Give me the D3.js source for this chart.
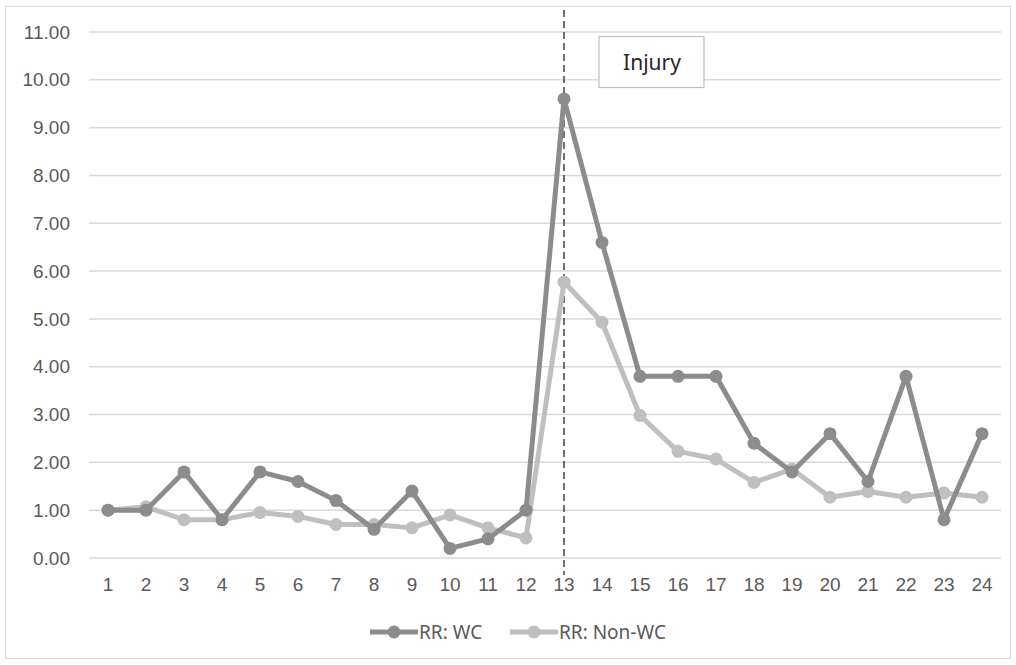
<!DOCTYPE html>
<html>
<head>
<meta charset="utf-8">
<script src="https://cdn.jsdelivr.net/npm/d3@7"></script>
<style>
  body { margin: 0; background: #fff; }
  svg { font-family: 'Noto Sans', 'Open Sans', sans-serif; }
</style>
</head>
<body>
<svg id="chart" width="1016" height="665"></svg>
<script>
// weeks and relative risk values
const weeks = d3.range(1, 25);
const rrWC = [1.0, 1.0, 1.8, 0.8, 1.8, 1.6, 1.2, 0.6, 1.4, 0.2, 0.4, 1.0,
  9.6, 6.6, 3.8, 3.8, 3.8, 2.4, 1.8, 2.6, 1.6, 3.8, 0.8, 2.6];
const rrNonWC = [1.0, 1.07, 0.8, 0.8, 0.95, 0.87, 0.7, 0.7, 0.63, 0.9, 0.63, 0.42,
  5.77, 4.93, 2.98, 2.23, 2.07, 1.58, 1.86, 1.27, 1.39, 1.27, 1.36, 1.27];
const yTicks = d3.range(0, 12);
const injuryWeek = 13;

const series = [
  { name: 'RR: Non-WC', values: rrNonWC, color: '#bfbfbf' },
  { name: 'RR: WC', values: rrWC, color: '#8c8c8c' },
];

const svg = d3.select('#chart');

// outer frame
svg.append('rect')
  .attr('x', 5.5).attr('y', 6.5)
  .attr('width', 1005).attr('height', 652)
  .attr('fill', 'none').attr('stroke', '#d9d9d9');

const x = d3.scaleBand().domain(weeks).range([89, 1001]);
const y = d3.scaleLinear().domain([0, 11]).range([558, 32]);

// gridlines
svg.append('g')
  .selectAll('line')
  .data(yTicks)
  .join('line')
  .attr('x1', 89).attr('x2', 1001)
  .attr('y1', (d) => y(d)).attr('y2', (d) => y(d))
  .attr('stroke', '#d9d9d9').attr('stroke-width', 1.5);

const yAxis = svg.append('g')
  .attr('transform', 'translate(89,0)')
  .call(d3.axisLeft(y).tickValues(yTicks).tickFormat(d3.format('.2f')).tickSize(0).tickPadding(19));
yAxis.select('.domain').remove();
yAxis.selectAll('text').attr('font-size', 19).attr('fill', '#595959').attr('font-family', null);

const xAxis = svg.append('g')
  .attr('transform', 'translate(0,' + y(0) + ')')
  .call(d3.axisBottom(x).tickSize(0).tickPadding(20));
xAxis.select('.domain').remove();
xAxis.selectAll('text').attr('font-size', 19).attr('fill', '#595959').attr('font-family', null);

// injury marker
const injX = x(injuryWeek) + x.bandwidth() / 2;
svg.append('line')
  .attr('x1', injX).attr('x2', injX)
  .attr('y1', 10).attr('y2', 575)
  .attr('stroke', '#262626').attr('stroke-width', 1.3)
  .attr('stroke-dasharray', '7,4');

svg.append('rect')
  .attr('x', 599).attr('y', 36.5)
  .attr('width', 105).attr('height', 51)
  .attr('fill', '#fff').attr('stroke', '#bfbfbf').attr('stroke-width', 1.2);
svg.append('text')
  .attr('x', 652).attr('y', 69.5)
  .attr('text-anchor', 'middle')
  .attr('font-size', 21).attr('fill', '#262626')
  .text('Injury');

// lines and markers
const line = d3.line()
  .x((d, i) => x(weeks[i]) + x.bandwidth() / 2)
  .y((d) => y(d));

series.forEach((s) => {
  const g = svg.append('g');
  g.append('path')
    .attr('d', line(s.values))
    .attr('fill', 'none')
    .attr('stroke', s.color)
    .attr('stroke-width', 5)
    .attr('stroke-linejoin', 'round');
  g.selectAll('circle')
    .data(s.values)
    .join('circle')
    .attr('cx', (d, i) => x(weeks[i]) + x.bandwidth() / 2)
    .attr('cy', (d) => y(d))
    .attr('r', 6.5)
    .attr('fill', s.color);
});

// legend
const legendItems = [
  { name: 'RR: WC', color: '#8c8c8c', x: 370 },
  { name: 'RR: Non-WC', color: '#bfbfbf', x: 510 },
];
const legend = svg.append('g').selectAll('g')
  .data(legendItems)
  .join('g')
  .attr('transform', (d) => `translate(${d.x},632)`);
legend.append('line')
  .attr('x1', 0).attr('x2', 48)
  .attr('stroke', (d) => d.color).attr('stroke-width', 5);
legend.append('circle')
  .attr('cx', 24).attr('r', 6.5)
  .attr('fill', (d) => d.color);
legend.append('text')
  .attr('x', 49).attr('dy', '0.35em')
  .attr('font-size', 19).attr('fill', '#595959')
  .text((d) => d.name);
</script>
</body>
</html>
